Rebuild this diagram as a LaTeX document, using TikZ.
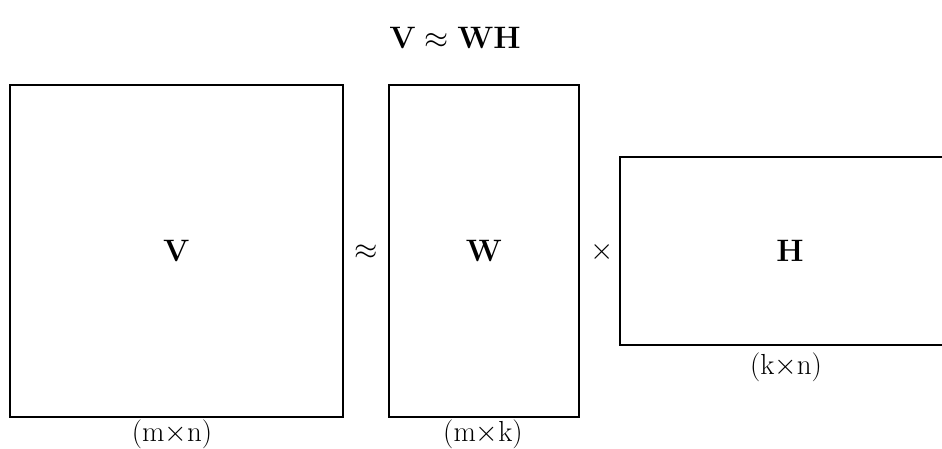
\RequirePackage{fix-cm}
\documentclass[tikz,border=0pt]{standalone}
\usepackage{amsmath}
\begin{document}
\begin{tikzpicture}[x=1pt,y=-1pt,
  mat/.style={draw, line width=2.8pt, inner sep=0pt, outer sep=0pt},
  big/.style={font=\fontsize{31}{36}\selectfont},
  dim/.style={font=\fontsize{29}{34}\selectfont, inner sep=0pt},
  op/.style={font=\fontsize{30}{34}\selectfont, inner sep=0pt}]
\useasboundingbox (0,0) rectangle (942,449);
\clip (0,0) rectangle (942,449);
\node[big] (title) at (455,38) {$\mathbf{V}\approx\mathbf{WH}$};
\node[mat, minimum width=333pt, minimum height=332pt, big] (V) at (176.5,251) {$\mathbf{V}$};
\node[mat, minimum width=190pt, minimum height=332pt, big] (W) at (484,251) {$\mathbf{W}$};
\node[mat, minimum width=340pt, minimum height=188pt, big] (H) at (790,251) {$\mathbf{H}$};
\node[op] (approx) at (366,252) {$\approx$};
\node[op] (times) at (602,252) {$\times$};
\node[dim, anchor=north] (dV) at ([yshift=-3pt]V.south-|172,0) {$(\mathrm{m}{\times}\mathrm{n})$};
\node[dim, anchor=north] (dW) at ([yshift=-3pt]W.south-|483,0) {$(\mathrm{m}{\times}\mathrm{k})$};
\node[dim, anchor=north] (dH) at ([yshift=-8pt]H.south-|786,0) {$(\mathrm{k}{\times}\mathrm{n})$};
\end{tikzpicture}
\end{document}
